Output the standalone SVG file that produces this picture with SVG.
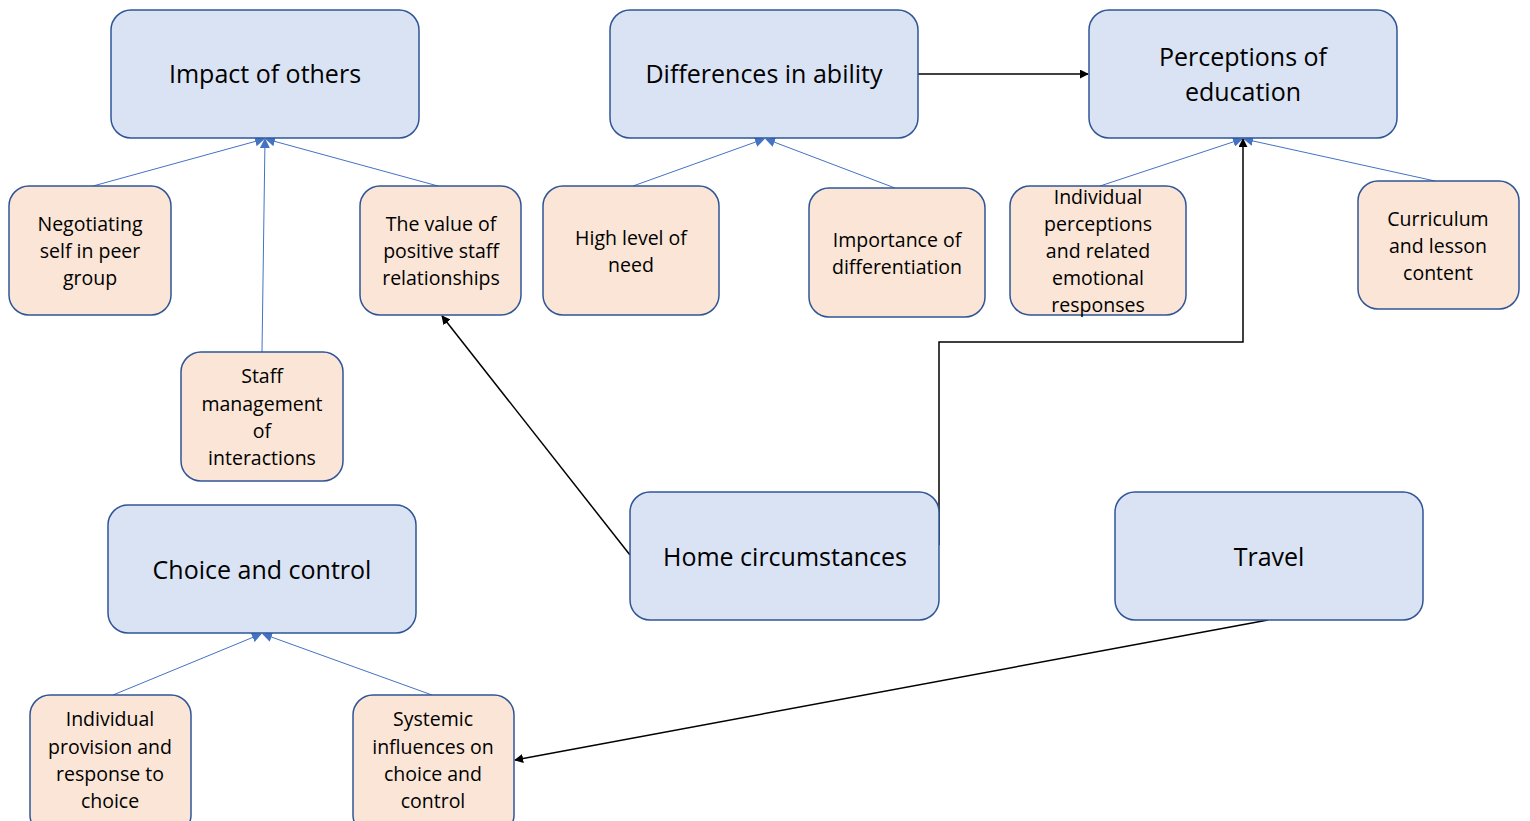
<svg xmlns="http://www.w3.org/2000/svg" width="1530" height="821" viewBox="0 0 1530 821">
<style>
.main rect{fill:#dae3f3;stroke:#2f5597;stroke-width:1.5}
.sub rect{fill:#fbe5d6;stroke:#2f5597;stroke-width:1.5}
text{font-family:"Open Sans","Noto Sans",sans-serif;fill:#000;text-anchor:middle}
.main text{font-size:25px}
.sub text{font-size:19.5px}
.blue{stroke:#4472c4;stroke-width:1;fill:none;marker-end:url(#ab)}
.blk{stroke:#000;stroke-width:1.5;fill:none;marker-end:url(#ak)}
</style>
<defs>
<marker id="ab" viewBox="0 0 10 10" refX="9" refY="5" markerWidth="10" markerHeight="10" markerUnits="userSpaceOnUse" orient="auto"><path d="M0,0 L10,5 L0,10 z" fill="#4472c4"/></marker>
<marker id="ak" viewBox="0 0 10 10" refX="9" refY="5" markerWidth="9" markerHeight="9" markerUnits="userSpaceOnUse" orient="auto"><path d="M0,0 L10,5 L0,10 z" fill="#000"/></marker>
</defs>
<rect width="1530" height="821" fill="#fff"/>
<g id="connectors">
<line class="blue" x1="93" y1="186" x2="264" y2="139"/>
<line class="blue" x1="262" y1="352" x2="265" y2="139"/>
<line class="blue" x1="438" y1="186" x2="266" y2="139"/>
<line class="blue" x1="633" y1="186" x2="764" y2="139"/>
<line class="blue" x1="895" y1="188" x2="766" y2="139"/>
<line class="blue" x1="1100" y1="186" x2="1242" y2="139"/>
<line class="blue" x1="1435" y1="181" x2="1244" y2="139"/>
<line class="blue" x1="113" y1="695" x2="261" y2="634"/>
<line class="blue" x1="432" y1="695" x2="263" y2="634"/>
<line class="blk" x1="918" y1="74" x2="1088" y2="74"/>
<line class="blk" x1="630" y1="555" x2="442" y2="316"/>
<polyline class="blk" points="939,545 939,342 1243,342 1243,139"/>
<line class="blk" x1="1268" y1="620" x2="515" y2="760"/>
</g>
<g id="n-impact" class="main"><rect x="111" y="10" width="308" height="128" rx="20"/><text x="265" y="83">Impact of others</text></g>
<g id="n-differences" class="main"><rect x="610" y="10" width="308" height="128" rx="20"/><text x="764" y="83">Differences in ability</text></g>
<g id="n-perceptions" class="main"><rect x="1089" y="10" width="308" height="128" rx="20"/><text x="1243" y="66">Perceptions of</text><text x="1243" y="101">education</text></g>
<g id="n-negotiating" class="sub"><rect x="9" y="186" width="162" height="129" rx="20"/><text x="90" y="231">Negotiating</text><text x="90" y="258">self in peer</text><text x="90" y="285">group</text></g>
<g id="n-value" class="sub"><rect x="360" y="186" width="161" height="129" rx="20"/><text x="441" y="231">The value of</text><text x="441" y="258">positive staff</text><text x="441" y="285">relationships</text></g>
<g id="n-high" class="sub"><rect x="543" y="186" width="176" height="129" rx="20"/><text x="631" y="245">High level of</text><text x="631" y="272">need</text></g>
<g id="n-importance" class="sub"><rect x="809" y="188" width="176" height="129" rx="20"/><text x="897" y="247">Importance of</text><text x="897" y="274">differentiation</text></g>
<g id="n-individual-perceptions" class="sub"><rect x="1010" y="186" width="176" height="129" rx="20"/><text x="1098" y="204">Individual</text><text x="1098" y="231">perceptions</text><text x="1098" y="258">and related</text><text x="1098" y="285">emotional</text><text x="1098" y="312">responses</text></g>
<g id="n-curriculum" class="sub"><rect x="1358" y="181" width="161" height="128" rx="20"/><text x="1438" y="226">Curriculum</text><text x="1438" y="253">and lesson</text><text x="1438" y="280">content</text></g>
<g id="n-staff" class="sub"><rect x="181" y="352" width="162" height="129" rx="20"/><text x="262" y="383">Staff</text><text x="262" y="411">management</text><text x="262" y="438">of</text><text x="262" y="465">interactions</text></g>
<g id="n-choice" class="main"><rect x="108" y="505" width="308" height="128" rx="20"/><text x="262" y="579">Choice and control</text></g>
<g id="n-home" class="main"><rect x="630" y="492" width="309" height="128" rx="20"/><text x="785" y="566">Home circumstances</text></g>
<g id="n-travel" class="main"><rect x="1115" y="492" width="308" height="128" rx="20"/><text x="1269" y="566">Travel</text></g>
<g id="n-individual-provision" class="sub"><rect x="30" y="695" width="161" height="140" rx="20"/><text x="110" y="726">Individual</text><text x="110" y="754">provision and</text><text x="110" y="781">response to</text><text x="110" y="808">choice</text></g>
<g id="n-systemic" class="sub"><rect x="353" y="695" width="161" height="140" rx="20"/><text x="433" y="726">Systemic</text><text x="433" y="754">influences on</text><text x="433" y="781">choice and</text><text x="433" y="808">control</text></g>
</svg>
